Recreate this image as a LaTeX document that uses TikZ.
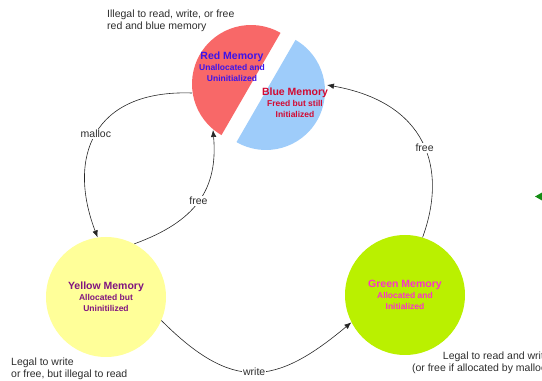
\documentclass[tikz,border=0pt]{standalone}
\usepackage{fontspec}
\setmainfont{Liberation Sans}
\usetikzlibrary{arrows.meta}
\definecolor{redmem}{RGB}{248,104,104}
\definecolor{bluemem}{RGB}{158,204,250}
\definecolor{yelmem}{RGB}{255,255,153}
\definecolor{grnmem}{RGB}{186,240,0}
\definecolor{redtxt}{RGB}{60,20,235}
\definecolor{bluetxt}{RGB}{210,10,50}
\definecolor{yeltxt}{RGB}{128,20,128}
\definecolor{grntxt}{RGB}{250,50,200}
\definecolor{labelgray}{RGB}{45,45,45}
\definecolor{tipgreen}{RGB}{20,140,20}
\tikzset{
  memory/.style={circle,minimum size=120pt,inner sep=0pt,align=center,
    font=\fontsize{8.5}{11}\selectfont\bfseries},
  memtext/.style={inner sep=0pt,align=center,
    font=\fontsize{8.5}{11}\selectfont\bfseries},
  flow/.style={-{Latex[length=7pt,width=5.5pt]},line width=0.6pt,draw=black!85},
  lbl/.style={fill=white,inner sep=1pt,font=\fontsize{10.5}{12}\selectfont,text=labelgray},
  note/.style={inner sep=0pt,font=\fontsize{10.5}{12}\selectfont,text=labelgray},
}
\newcommand{\memname}[1]{{\fontsize{10.5}{12}\selectfont#1}}
\begin{document}
\begin{tikzpicture}[x=1pt,y=1pt]
    \def\r{59}
    \useasboundingbox (0,0) rectangle (542,381);
    \clip (0,0) rectangle (542,381);
    \fill[redmem] (251,297) ++(60:\r) arc[start angle=60,end angle=240,radius=\r] -- cycle;
    \fill[bluemem] (266,290) ++(240:\r) arc[start angle=240,end angle=420,radius=\r] -- cycle;
    \node[memtext,text=redtxt] (A0_1) at (232,314) {\memname{Red Memory}\\Unallocated and\\Uninitialized};
    \node[memtext,text=bluetxt] (A0_2) at (295,278) {\memname{Blue Memory}\\Freed but still\\Initialized};
    \node[memory,fill=yelmem,text=yeltxt] (A1_0) at (106,84) {\memname{Yellow Memory}\\Allocated but\\Uninitilized};
    \node[memory,fill=grnmem,text=grntxt] (A1_3) at (405,86) {\memname{Green Memory}\\Allocated and\\Initialized};
    \coordinate (A0_1w) at (192,288);
    \coordinate (A0_1s) at (213,251);
    \coordinate (A0_2e) at (327,296);
    \path (A0_1w) edge [flow,out=178,in=111,out distance=100,in distance=85] node [lbl,pos=0.5] {malloc} (A1_0.98);
    \path (A1_0.62) edge [flow,out=20,in=-85,out distance=65,in distance=60] node [lbl,pos=0.5] {free} (A0_1s);
    \path (A1_0.-23) edge [flow,out=-45,in=220,out distance=100,in distance=100] node [lbl,pos=0.5] {write} (A1_3.207);
    \path (A1_3.73) edge [flow,out=70,in=-10,out distance=75,in distance=100] node [lbl,pos=0.46] {free} (A0_2e);
    \node[note,anchor=west,align=left] (N0) at (107,360) {Illegal to read, write, or free\\red and blue memory};
    \node[note,anchor=west,align=left] (N1) at (11,12) {Legal to write\\or free, but illegal to read};
    \node[note,anchor=east,align=right] (N2) at (550,18) {Legal to read and write\\(or free if allocated by malloc)};
    \fill[tipgreen] (535,184.5) -- (542,188.5) -- (542,180.5) -- cycle;
  \end{tikzpicture}
\end{document}
